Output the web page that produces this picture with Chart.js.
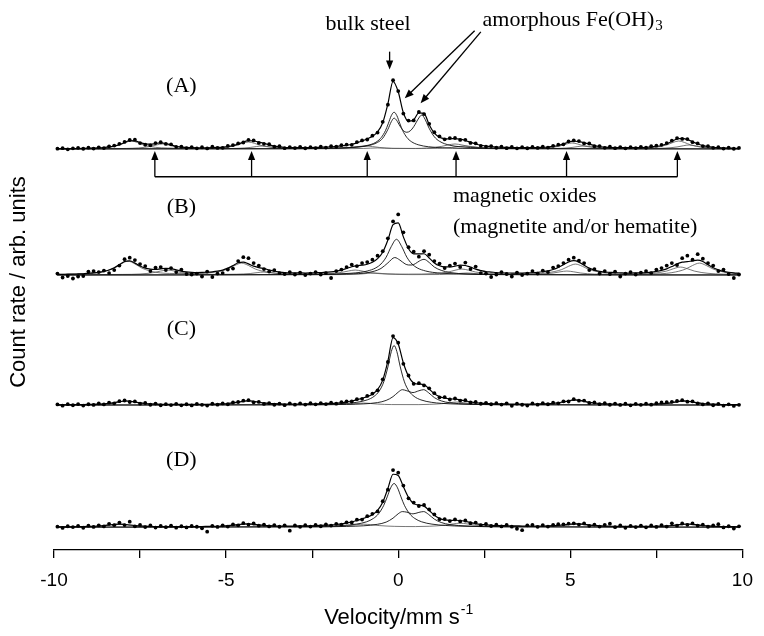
<!DOCTYPE html>
<html>
<head>
<meta charset="utf-8">
<script src="https://cdn.jsdelivr.net/npm/chart.js@4.4.1/dist/chart.umd.min.js"></script>
<style>
  html, body { margin: 0; padding: 0; background: #fff; }
  #wrap { width: 764px; height: 636px; }
</style>
</head>
<body>
<div id="wrap"><canvas id="spectra" width="764" height="636"></canvas></div>
<script>
// channel velocities (mm/s)
const VELOCITY = [
  -9.9,
  -9.75,-9.6,-9.45,-9.3,-9.15,-9,-8.85,-8.7,-8.55,-8.4,
  -8.25,-8.1,-7.95,-7.8,-7.65,-7.5,-7.35,-7.2,-7.05,-6.9,
  -6.75,-6.6,-6.45,-6.3,-6.15,-6,-5.85,-5.7,-5.55,-5.4,
  -5.25,-5.1,-4.95,-4.8,-4.65,-4.5,-4.35,-4.2,-4.05,-3.9,
  -3.75,-3.6,-3.45,-3.3,-3.15,-3,-2.85,-2.7,-2.55,-2.4,
  -2.25,-2.1,-1.95,-1.8,-1.65,-1.5,-1.35,-1.2,-1.05,-0.9,
  -0.75,-0.6,-0.45,-0.3,-0.15,0,0.15,0.3,0.45,0.6,
  0.75,0.9,1.05,1.2,1.35,1.5,1.65,1.8,1.95,2.1,
  2.25,2.4,2.55,2.7,2.85,3,3.15,3.3,3.45,3.6,
  3.75,3.9,4.05,4.2,4.35,4.5,4.65,4.8,4.95,5.1,
  5.25,5.4,5.55,5.7,5.85,6,6.15,6.3,6.45,6.6,
  6.75,6.9,7.05,7.2,7.35,7.5,7.65,7.8,7.95,8.1,
  8.25,8.4,8.55,8.7,8.85,9,9.15,9.3,9.45,9.6,
  9.75,
  9.9
];

// (A) measured counts and fit, arbitrary units above its own baseline
const A_COUNTS = [
  0.3,
  0.8,-0.4,0.6,1.1,0.2,1.3,0.4,1.6,0.9,2.6,
  3.4,5.2,7.1,9.0,9.3,5.9,4.2,3.6,5.9,6.8,
  5.0,4.6,2.1,2.4,0.9,1.9,0.6,1.7,0.5,2.2,
  1.0,1.1,3.0,3.9,5.6,6.5,9.2,8.6,6.1,5.2,
  4.8,2.2,2.7,0.8,1.9,0.9,2.1,0.7,1.8,0.9,
  2.3,1.4,2.8,2.2,3.8,4.4,4.1,6.9,8.6,9.5,
  13.4,16.5,27.3,44.6,69.2,58.3,35.6,28.6,28.7,37.2,
  35.1,25.3,16.8,12.6,9.7,10.9,11.0,9.1,9.2,6.1,
  5.7,3.1,2.2,2.9,1.2,2.3,0.8,2.0,0.6,1.9,
  0.7,2.0,1.0,2.2,1.4,3.1,4.3,4.6,7.7,8.6,
  7.9,5.6,5.5,2.7,2.9,1.1,2.2,0.8,1.9,0.6,
  1.8,0.9,2.1,1.2,2.7,3.3,4.1,5.9,8.4,10.9,
  10.1,9.9,6.8,5.6,2.9,2.9,1.1,1.8,0.4,1.3,
  0.2,
  1.0
];
const A_FIT = [
  0.25,
  0.3,0.3,0.35,0.4,0.5,0.7,0.85,1.1,1.45,2.0,
  2.9,4.3,6.5,8.4,8.2,6.4,5.1,4.8,5.4,6.1,
  5.5,4.0,2.7,1.9,1.6,1.35,1.2,1.2,1.2,1.3,
  1.5,1.8,2.3,3.3,4.8,7.0,8.4,8.0,6.9,5.7,
  4.1,2.8,2.0,1.45,1.3,1.5,1.4,1.35,1.4,1.5,
  1.7,1.9,2.1,2.6,3.1,3.6,4.7,6.1,8.0,10.2,
  12.7,17.2,26.4,45.4,68.1,57.6,36.5,27.9,29.4,36.4,
  35.9,24.4,15.9,11.8,10.4,10.2,10.4,9.8,8.5,6.7,
  5.0,3.7,2.9,2.3,1.9,1.7,1.55,1.4,1.35,1.3,
  1.3,1.3,1.45,1.6,1.95,2.5,3.5,5.1,7.0,7.95,
  7.3,6.3,4.8,3.3,2.3,1.85,1.5,1.4,1.3,1.25,
  1.25,1.35,1.4,1.65,2.0,2.6,3.5,5.2,7.6,10.0,
  10.6,9.4,7.3,5.0,3.4,2.3,1.7,1.3,1.0,0.8,
  0.7,
  0.6
];
const A_SINGLET = [[-9.9,0.03],[-3.12,0.26],[-2.12,0.57],[-1.52,1.14],[-1.12,2.2],[-0.82,4.2],[-0.62,7.4],[-0.49,11.6],[-0.37,18.5],[-0.29,25.3],[-0.2,33.6],[-0.12,37],[-0.04,33.6],[0.05,25.3],[0.13,18.5],[0.25,11.6],[0.38,7.4],[0.58,4.2],[0.88,2.2],[1.28,1.14],[1.88,0.57],[2.88,0.26],[9.9,0.03]];
const A_DOUBLET = [[-9.9,0.05],[-3,0.2],[-1.8,0.9],[-1.2,1.85],[-0.9,3.1],[-0.6,6.6],[-0.45,10.8],[-0.3,19.7],[-0.2,27.5],[-0.12,31],[-0.05,29],[0.05,23.1],[0.15,18.4],[0.25,16.8],[0.35,18.2],[0.45,22.4],[0.6,31.2],[0.68,34.1],[0.75,31.8],[0.9,20.7],[1.05,12.2],[1.2,7.7],[1.5,3.7],[1.8,2.2],[2.4,1.0],[3.5,0.4],[9.9,0.05]];
const A_SEXTET_1 = [[-9.9,0.2],[-8.8,0.8],[-8.45,1.6],[-8.1,4],[-7.92,6.5],[-7.75,8],[-7.58,6.5],[-7.4,4],[-7.05,1.6],[-6.7,0.9],[-6,0.4],[-5.4,0.7],[-5.05,1.5],[-4.7,3.6],[-4.52,5.7],[-4.35,7],[-4.18,5.7],[-4.0,3.6],[-3.65,1.5],[-3.3,0.8],[-2.5,0.3],[-1.75,0.6],[-1.35,1.5],[-1.15,2.4],[-0.95,3],[-0.75,2.4],[-0.55,1.5],[-0.15,0.6],[0.5,0.5],[0.85,1.0],[1.25,2.5],[1.45,4],[1.65,5],[1.85,4],[2.05,2.5],[2.45,1.0],[3.2,0.4],[4.0,0.6],[4.35,1.2],[4.7,3],[4.88,4.9],[5.05,6],[5.22,4.9],[5.4,3],[5.75,1.2],[6.3,0.5],[7.1,0.7],[7.45,1.6],[7.8,4],[7.98,6.5],[8.15,8],[8.32,6.5],[8.5,4],[8.85,1.6],[9.2,0.8],[9.9,0.3]];
const A_SEXTET_2 = [[-9.9,0.1],[-8.25,0.3],[-7.9,0.5],[-7.55,1],[-7.2,2.5],[-7.02,4],[-6.85,5],[-6.68,4],[-6.5,2.5],[-6.15,1],[-5.6,0.4],[-5.0,0.3],[-4.65,0.6],[-4.3,1.5],[-4.12,2.4],[-3.95,3],[-3.78,2.4],[-3.6,1.5],[-3.25,0.6],[-2.5,0.2],[-1.4,0.3],[-1.0,0.5],[-0.6,1],[-0.2,0.5],[0.5,0.4],[1.15,0.6],[1.55,1.5],[1.95,3],[2.35,1.5],[2.75,0.6],[3.8,0.3],[4.7,0.6],[5.05,1.5],[5.22,2.4],[5.4,3],[5.58,2.4],[5.75,1.5],[6.1,0.6],[7.05,0.3],[7.75,0.8],[8.1,2],[8.28,3.2],[8.45,4],[8.62,3.2],[8.8,2],[9.15,0.8],[9.9,0.3]];

// (B)
const B_COUNTS = [
  1.5,
  -2.5,-1.0,-3.5,-1.5,-1.0,3.5,4.0,3.0,4.5,2.0,
  5.0,9.5,16.0,17.5,15.0,11.0,9.0,4.0,7.5,8.0,
  5.0,7.0,3.0,5.5,1.0,0.5,1.5,-1.5,3.5,-2.0,
  1.5,2.0,5.5,6.5,14.0,18.0,17.0,12.0,9.5,6.0,
  3.5,5.0,2.0,1.0,3.0,0.5,2.5,0.0,1.5,3.0,
  0.5,2.0,-3.0,4.0,5.5,8.0,10.5,9.0,12.0,13.0,
  15.5,19.5,24.0,37.0,54.0,61.0,43.0,28.0,23.5,18.5,
  24.0,20.5,14.0,11.5,7.0,9.5,11.5,8.0,12.5,6.0,
  8.5,2.0,1.5,-2.0,0.5,3.0,1.0,-1.5,2.5,0.0,
  1.5,4.0,1.5,4.5,3.0,7.5,9.0,12.0,15.5,17.5,
  14.5,12.0,5.0,6.0,1.5,4.0,1.0,3.5,-1.5,1.5,
  3.0,0.5,2.5,4.0,2.0,5.5,7.0,9.5,12.0,10.0,
  17.0,19.5,15.5,21.0,16.5,12.0,9.5,4.0,5.5,1.0,
  -3.0,
  0.5
];
const B_FIT = [
  0.6,
  0.7,0.8,0.9,1.1,1.3,1.7,2.1,2.7,3.6,5.1,
  7.3,10.4,13.6,14.3,12.0,9.0,6.9,5.9,5.7,6.2,
  6.6,6.5,5.1,3.9,3.1,2.7,2.5,2.6,2.8,3.2,
  3.9,5.0,6.9,9.5,12.3,13.0,11.2,8.9,7.5,6.4,
  5.1,3.8,3.0,2.4,2.1,2.2,2.1,2.0,2.1,2.3,
  2.5,2.9,3.2,3.9,5.0,6.6,8.3,9.4,9.9,10.8,
  12.8,16.5,22.9,35.2,50.7,52.5,38.4,26.5,21.3,21.2,
  21.4,17.2,12.2,9.3,8.1,8.1,8.9,9.9,9.6,7.9,
  5.9,4.5,3.4,3.0,2.5,2.2,2.05,2.0,1.95,2.0,
  2.1,2.3,2.7,3.3,4.1,5.5,7.6,10.4,13.1,14.4,
  13.0,9.8,6.9,4.9,3.6,3.0,2.7,2.4,2.2,2.0,
  2.0,2.1,2.2,2.5,2.9,3.6,4.6,6.2,8.5,11.2,
  12.9,13.4,14.3,15.0,13.6,10.3,7.3,5.2,3.75,2.8,
  2.15,
  1.7
];
const B_SINGLET = [[-9.9,0.03],[-2.5,0.53],[-1.8,1.03],[-1.4,1.7],[-1.1,2.7],[-0.9,4.0],[-0.65,7.2],[-0.5,11.1],[-0.35,18],[-0.2,28.8],[-0.05,36],[0.1,28.8],[0.25,18],[0.4,11.1],[0.55,7.2],[0.8,4.0],[1.0,2.7],[1.3,1.7],[1.7,1.03],[2.4,0.53],[9.9,0.03]];
const B_DOUBLET = [[-9.9,0.05],[-2.5,0.35],[-1.8,0.7],[-1.3,1.2],[-1.0,1.85],[-0.7,3.8],[-0.5,6.6],[-0.3,12.2],[-0.1,17.6],[0.05,15.0],[0.2,11.2],[0.3,10.1],[0.4,10.1],[0.5,11.5],[0.62,14.2],[0.75,15.8],[0.9,12.6],[1.05,8.0],[1.25,4.7],[1.5,2.5],[2.0,1.06],[3.0,0.4],[9.9,0.05]];
const B_SEXTET_1 = [[-9.9,0.5],[-8.9,1.8],[-8.65,2.8],[-8.25,7],[-8.05,11.2],[-7.85,14],[-7.65,11.2],[-7.45,7],[-7.05,2.8],[-6.5,1.5],[-5.9,1.4],[-5.35,2.8],[-4.95,6],[-4.75,9.6],[-4.55,12],[-4.35,9.6],[-4.15,6],[-3.75,2.6],[-3.0,1.2],[-2.45,1.2],[-2.05,1.3],[-1.65,2.6],[-1.45,4],[-1.25,5],[-1.05,4],[-0.85,2.5],[-0.45,1.2],[0.3,0.9],[1.05,1.4],[1.45,3],[1.65,4.8],[1.85,6],[2.05,4.8],[2.25,3],[2.65,1.4],[3.5,1.0],[4.35,2.4],[4.75,5.5],[4.95,8.8],[5.15,11],[5.35,8.8],[5.55,5.5],[5.95,2.4],[6.6,1.1],[7.3,1.0],[7.95,2.4],[8.35,6],[8.55,9.6],[8.75,12],[8.95,9.6],[9.15,6],[9.55,2.4],[9.9,1.2]];
const B_SEXTET_2 = [[-9.9,0.2],[-8.0,0.6],[-7.5,1.0],[-7.1,2.5],[-6.9,4],[-6.7,5],[-6.5,4],[-6.3,2.5],[-5.9,1.1],[-5.2,0.6],[-4.7,0.8],[-4.3,1.5],[-4.1,2.4],[-3.9,3],[-3.7,2.4],[-3.5,1.5],[-3.1,0.7],[-2.2,0.3],[-1.5,0.5],[-1.1,1.0],[-0.9,1.6],[-0.7,2],[-0.5,1.6],[-0.3,1.0],[0.4,0.4],[1.2,0.5],[1.6,1.0],[1.8,1.6],[2.0,2],[2.2,1.6],[2.4,1.0],[3.2,0.5],[4.1,0.9],[4.5,2.0],[4.7,3.2],[4.9,4],[5.1,3.2],[5.3,2.0],[5.7,0.9],[6.6,0.5],[7.4,1.7],[7.8,4],[8.0,6.4],[8.2,8],[8.4,6.4],[8.6,4],[9.0,1.7],[9.9,0.5]];

// (C)
const C_COUNTS = [
  0.6,
  -0.6,0.9,-0.2,1.0,-0.5,0.8,0.1,1.6,0.6,2.4,
  1.7,3.9,4.6,3.1,3.7,1.4,2.1,0.3,1.5,-0.2,
  0.9,0.0,1.2,-0.3,0.8,-0.4,1.1,0.2,-0.5,1.3,
  0.4,1.6,0.8,2.6,3.1,4.4,4.9,2.8,3.2,1.1,
  2.0,0.3,1.4,-0.1,1.7,0.4,1.6,0.5,1.8,0.7,
  2.0,1.0,2.4,1.4,3.0,3.8,3.6,5.9,6.3,9.2,
  11.6,14.8,25.9,43.4,69.5,62.8,41.5,29.8,21.4,22.0,
  19.8,16.9,12.0,7.8,7.9,5.6,6.6,4.5,4.9,2.6,
  3.1,1.3,2.3,0.8,1.9,0.5,1.7,-0.8,1.4,0.3,
  -0.5,1.6,0.4,1.9,0.8,2.4,1.7,3.8,3.6,5.9,
  4.4,4.5,2.1,2.7,0.9,1.8,0.3,1.5,0.1,1.3,
  -0.3,1.2,0.2,1.4,0.4,1.8,2.6,2.9,3.3,4.1,
  4.9,3.4,3.8,1.6,0.6,1.7,-0.2,1.1,-0.6,0.7,
  -0.9,
  0.2
];
const C_FIT = [
  0.25,
  0.3,0.35,0.4,0.45,0.5,0.6,0.75,0.95,1.25,1.7,
  2.4,3.35,4.1,3.9,3.05,2.15,1.55,1.15,0.9,0.7,
  0.65,0.65,0.6,0.6,0.6,0.6,0.65,0.7,0.75,0.85,
  1.05,1.25,1.6,2.2,2.95,3.9,4.35,3.85,2.95,2.15,
  1.65,1.35,1.15,1.05,1.05,1.05,1.05,1.1,1.15,1.25,
  1.35,1.55,1.7,2.0,2.4,3.2,4.1,5.3,6.9,8.5,
  10.9,15.5,25.1,44.3,68.0,61.5,42.4,29.0,22.2,21.1,
  20.6,16.1,11.3,8.5,7.1,6.3,5.9,5.2,4.2,3.2,
  2.4,2.0,1.65,1.4,1.3,1.2,1.1,1.0,1.0,1.0,
  1.0,1.05,1.1,1.25,1.4,1.7,2.3,3.1,4.3,5.2,
  5.0,3.85,2.75,2.05,1.55,1.25,1.05,0.9,0.8,0.75,
  0.7,0.7,0.75,0.8,0.9,1.05,1.35,1.75,2.45,3.4,
  4.15,3.95,3.1,2.2,1.55,1.15,0.85,0.65,0.55,0.45,
  0.4,
  0.35
];
const C_SINGLET = [[-9.9,0.03],[-3.0,0.42],[-2.0,0.97],[-1.5,1.7],[-1.2,2.8],[-0.9,5.2],[-0.7,8.8],[-0.55,14.2],[-0.42,23.4],[-0.3,38.4],[-0.2,54],[-0.12,60],[-0.04,54],[0.06,38.4],[0.18,23.4],[0.31,14.2],[0.46,8.8],[0.66,5.2],[0.96,2.8],[1.26,1.7],[1.76,0.97],[2.76,0.42],[9.9,0.03]];
const C_DOUBLET = [[-9.9,0.05],[-2.5,0.25],[-1.5,0.66],[-1.0,1.2],[-0.6,2.5],[-0.35,4.7],[-0.15,8.5],[0,13.0],[0.12,15.5],[0.25,14.4],[0.43,12.6],[0.6,14.4],[0.74,15.5],[0.88,12.5],[1.05,7.5],[1.25,4.2],[1.5,2.3],[2.0,1.05],[3.0,0.4],[9.9,0.05]];
const C_SEXTET = [[-9.9,0.2],[-8.7,0.8],[-8.3,2],[-8.1,3.2],[-7.9,4],[-7.7,3.2],[-7.5,2],[-7.1,0.8],[-6.2,0.3],[-5.15,0.8],[-4.75,2],[-4.55,3.2],[-4.35,4],[-4.15,3.2],[-3.95,2],[-3.55,0.8],[-2.4,0.3],[-1.8,0.45],[-1.4,1.0],[-1.2,1.6],[-1.0,2],[-0.8,1.6],[-0.6,1.0],[-0.2,0.5],[0.6,0.45],[0.9,0.7],[1.3,1.5],[1.5,2.4],[1.7,3],[1.9,2.4],[2.1,1.5],[2.5,0.6],[3.5,0.3],[4.35,1.0],[4.75,2.5],[4.95,4],[5.15,5],[5.35,4],[5.55,2.5],[5.95,1.0],[6.8,0.4],[7.5,0.8],[7.9,2],[8.1,3.2],[8.3,4],[8.5,3.2],[8.7,2],[9.1,0.8],[9.9,0.3]];

// (D)
const D_COUNTS = [
  0.5,
  -0.8,0.9,0.1,1.4,-0.6,1.5,0.2,1.9,0.7,3.4,
  2.0,4.6,2.1,5.5,0.8,2.3,0.1,1.8,-0.4,1.3,
  0.0,1.6,-0.5,0.9,-0.3,1.2,0.4,-1.1,-4.5,1.4,
  0.2,1.9,0.6,2.8,1.9,4.0,2.6,3.7,1.5,2.6,
  0.7,2.1,0.4,1.9,-3.5,1.8,0.3,2.0,0.6,2.3,
  0.9,2.7,1.6,3.4,2.6,4.9,4.7,7.5,7.6,11.1,
  13.4,15.9,26.1,37.8,57.5,54.9,41.9,29.1,24.8,21.3,
  22.4,17.9,12.8,8.1,8.2,6.1,7.8,5.8,6.7,4.0,
  4.6,2.1,3.2,1.2,2.5,0.7,2.3,0.5,-1.6,-3.0,
  1.9,2.4,0.3,2.1,0.6,2.4,3.0,2.9,3.6,3.9,
  2.6,3.8,1.4,2.6,0.6,2.4,3.5,0.0,1.7,-0.6,
  1.4,0.1,1.6,-0.2,1.7,0.2,2.1,0.6,3.9,1.5,
  3.7,2.4,3.8,1.6,2.5,0.4,1.8,3.0,-0.3,0.9,
  -1.4,
  0.8
];
const D_FIT = [
  0.25,
  0.3,0.35,0.4,0.45,0.55,0.7,0.9,1.2,1.6,2.2,
  2.8,3.1,2.8,2.2,1.65,1.2,0.95,0.75,0.65,0.55,
  0.55,0.55,0.55,0.55,0.55,0.55,0.6,0.65,0.75,0.85,
  0.9,1.15,1.5,2.0,2.65,3.2,3.35,2.9,2.3,1.8,
  1.5,1.3,1.2,1.15,1.15,1.15,1.25,1.3,1.4,1.55,
  1.75,2.0,2.3,2.7,3.25,4.2,5.3,6.8,8.4,10.2,
  12.5,16.8,25.0,39.0,53.3,52.1,40.8,30.0,23.7,22.2,
  21.2,16.8,12.0,8.9,7.3,6.9,6.95,6.7,5.85,4.75,
  3.65,2.85,2.35,1.9,1.6,1.55,1.45,1.35,1.3,1.2,
  1.2,1.15,1.2,1.2,1.3,1.5,1.8,2.25,2.75,3.25,
  3.35,2.9,2.25,1.7,1.45,1.15,1.0,0.85,0.8,0.75,
  0.75,0.7,0.75,0.75,0.85,0.95,1.1,1.3,1.7,2.3,
  2.9,3.2,2.9,2.3,1.7,1.25,1.0,0.75,0.65,0.55,
  0.45,
  0.4
];
const D_SINGLET = [[-9.9,0.03],[-3.12,0.44],[-2.12,0.97],[-1.62,1.7],[-1.22,3.06],[-0.92,5.4],[-0.72,8.8],[-0.57,13.5],[-0.42,22],[-0.32,30.5],[-0.22,39.6],[-0.12,44],[-0.02,39.6],[0.08,30.5],[0.18,22],[0.33,13.5],[0.48,8.8],[0.68,5.4],[0.98,3.06],[1.38,1.7],[1.88,0.97],[2.88,0.44],[9.9,0.03]];
const D_DOUBLET = [[-9.9,0.05],[-2.5,0.3],[-1.5,0.75],[-1.0,1.4],[-0.6,2.9],[-0.35,5.1],[-0.15,9.1],[0,13.5],[0.12,15.7],[0.25,15.1],[0.43,13.4],[0.6,14.9],[0.74,15.7],[0.88,12.9],[1.05,8.1],[1.25,4.7],[1.5,2.6],[2.0,1.15],[3.0,0.42],[9.9,0.05]];
const D_SEXTET = [[-9.9,0.2],[-9.0,0.6],[-8.55,1.5],[-8.3,2.5],[-8.1,3],[-7.9,2.5],[-7.65,1.5],[-7.2,0.6],[-6.0,0.3],[-5.3,0.6],[-4.85,1.5],[-4.6,2.5],[-4.4,3],[-4.2,2.5],[-3.95,1.5],[-3.5,0.6],[-2.5,0.35],[-1.9,0.65],[-1.45,1.5],[-1.2,2.5],[-1.0,3],[-0.8,2.5],[-0.55,1.6],[-0.1,0.8],[0.5,0.6],[0.9,0.9],[1.35,2.0],[1.6,3.3],[1.8,4],[2.0,3.3],[2.25,2.0],[2.7,0.9],[3.5,0.5],[4.3,0.65],[4.75,1.5],[5.0,2.5],[5.2,3],[5.4,2.5],[5.65,1.5],[6.1,0.6],[7.0,0.35],[7.5,0.6],[7.95,1.5],[8.2,2.5],[8.4,3],[8.6,2.5],[8.85,1.5],[9.3,0.6],[9.9,0.3]];

// axis ticks
const TICKS = [-10, -7.5, -5, -2.5, 0, 2.5, 5, 7.5, 10];
const TICK_LABELS = [-10, -5, 0, 5, 10];

// marked line positions of the magnetic oxide sextet
const MAGNETIC_LINES = [-7.07, -4.26, -0.9, 1.68, 4.89, 8.11];

const SPECTRA = [
  { name: "(A)", base: 404, labelY: 467, counts: A_COUNTS, fit: A_FIT, parts: [A_SINGLET, A_DOUBLET], sextets: [A_SEXTET_1, A_SEXTET_2] },
  { name: "(B)", base: 277, labelY: 345, counts: B_COUNTS, fit: B_FIT, parts: [B_SINGLET, B_DOUBLET], sextets: [B_SEXTET_1, B_SEXTET_2] },
  { name: "(C)", base: 146, labelY: 222, counts: C_COUNTS, fit: C_FIT, parts: [C_SINGLET, C_DOUBLET], sextets: [C_SEXTET] },
  { name: "(D)", base: 23, labelY: 90, counts: D_COUNTS, fit: D_FIT, parts: [D_SINGLET, D_DOUBLET], sextets: [D_SEXTET] },
];

const SERIF = '"Liberation Serif", "Times New Roman", serif';
const SANS = '"Liberation Sans", Arial, sans-serif';

const onGrid = (ys, base) => ys.map((y, i) => ({ x: VELOCITY[i], y: y + base }));
const fromPairs = (pairs, base) => pairs.map(([x, y]) => ({ x, y: y + base }));

function lineSet(data, color, width, order) {
  return {
    data,
    showLine: true,
    pointRadius: 0,
    borderColor: color,
    borderWidth: width,
    cubicInterpolationMode: "monotone",
    fill: false,
    order,
  };
}

const datasets = [];
SPECTRA.forEach((s) => {
  datasets.push({
    data: onGrid(s.counts, s.base),
    showLine: false,
    pointRadius: 1.9,
    pointBackgroundColor: "#000",
    pointBorderWidth: 0,
    order: 0,
  });
  datasets.push(lineSet(onGrid(s.fit, s.base), "#000", 1.2, 1));
  s.parts.forEach((p) => datasets.push(lineSet(fromPairs(p, s.base), "#111", 0.9, 2)));
  s.sextets.forEach((p) => datasets.push(lineSet(fromPairs(p, s.base), "#555", 0.8, 3)));
});

function arrow(ctx, x1, y1, x2, y2) {
  const a = Math.atan2(y2 - y1, x2 - x1);
  const len = 9, half = 3.6;
  ctx.beginPath();
  ctx.moveTo(x1, y1);
  ctx.lineTo(x2 - Math.cos(a) * len * 0.8, y2 - Math.sin(a) * len * 0.8);
  ctx.stroke();
  ctx.beginPath();
  ctx.moveTo(x2, y2);
  ctx.lineTo(x2 - Math.cos(a) * len - Math.sin(a) * half, y2 - Math.sin(a) * len + Math.cos(a) * half);
  ctx.lineTo(x2 - Math.cos(a) * len + Math.sin(a) * half, y2 - Math.sin(a) * len - Math.cos(a) * half);
  ctx.closePath();
  ctx.fill();
}

const annotate = {
  id: "annotate",
  afterDraw(chart) {
    const { ctx } = chart;
    const xs = chart.scales.x, ys = chart.scales.y;
    const px = (v) => xs.getPixelForValue(v);
    const py = (v) => ys.getPixelForValue(v);
    ctx.save();
    ctx.fillStyle = "#000";
    ctx.strokeStyle = "#000";
    ctx.lineWidth = 1.3;

    // panel letters
    ctx.font = "22px " + SERIF;
    ctx.textAlign = "center";
    ctx.textBaseline = "middle";
    SPECTRA.forEach((s) => ctx.fillText(s.name, px(-6.3), py(s.labelY)));

    // bulk steel
    ctx.textAlign = "left";
    ctx.fillText("bulk steel", px(-2.11), py(530));
    arrow(ctx, px(-0.25), py(502), px(-0.25), py(484));

    // amorphous Fe(OH)3
    const fe = "amorphous Fe(OH)";
    ctx.fillText(fe, px(2.45), py(534));
    const feW = ctx.measureText(fe).width;
    ctx.font = "15px " + SERIF;
    ctx.fillText("3", px(2.45) + feW + 1, py(534) + 6);
    arrow(ctx, px(2.22), py(523), px(0.19), py(455));
    arrow(ctx, px(2.40), py(522), px(0.65), py(450));

    // magnetic oxides bracket
    const yb = py(376), yt = py(402);
    ctx.beginPath();
    ctx.moveTo(px(MAGNETIC_LINES[0]), yb);
    ctx.lineTo(px(MAGNETIC_LINES[MAGNETIC_LINES.length - 1]), yb);
    ctx.stroke();
    MAGNETIC_LINES.forEach((v) => arrow(ctx, px(v), yb, px(v), yt));
    ctx.font = "22px " + SERIF;
    ctx.fillText("magnetic oxides", px(1.59), py(356));
    ctx.fillText("(magnetite and/or hematite)", px(1.59), py(325));

    // axis titles
    ctx.font = "22px " + SANS;
    const main = "Velocity/mm s";
    const mw = ctx.measureText(main).width;
    ctx.font = "14px " + SANS;
    const sw = ctx.measureText("-1").width;
    const x0 = (xs.left + xs.right) / 2 - (mw + sw) / 2;
    ctx.textBaseline = "alphabetic";
    ctx.font = "22px " + SANS;
    ctx.fillText(main, x0, 624);
    ctx.font = "14px " + SANS;
    ctx.fillText("-1", x0 + mw + 1, 614);

    ctx.translate(19, 282);
    ctx.rotate(-Math.PI / 2);
    ctx.font = "22px " + SANS;
    ctx.textAlign = "center";
    ctx.textBaseline = "middle";
    ctx.fillText("Count rate / arb. units", 0, 0);
    ctx.restore();
  },
};

new Chart(document.getElementById("spectra"), {
  type: "scatter",
  data: { datasets },
  options: {
    responsive: false,
    animation: false,
    devicePixelRatio: 1,
    layout: { padding: { left: 54, right: 13, top: 0, bottom: 0 } },
    plugins: { legend: { display: false }, tooltip: { enabled: false } },
    scales: {
      x: {
        type: "linear",
        min: -10,
        max: 10,
        afterBuildTicks: (scale) => { scale.ticks = TICKS.map((v) => ({ value: v })); },
        afterFit: (scale) => { scale.height = 86; },
        ticks: {
          autoSkip: false,
          maxRotation: 0,
          padding: 11,
          color: "#000",
          font: { family: SANS, size: 19 },
          callback: (v) => (TICK_LABELS.includes(v) ? String(v) : ""),
        },
        grid: { drawOnChartArea: false, drawTicks: true, tickLength: 8, color: "#000", lineWidth: 1.3 },
        border: { display: true, color: "#000", width: 1.3 },
      },
      y: { min: 0, max: 550, display: false },
    },
  },
  plugins: [annotate],
});
</script>
</body>
</html>
